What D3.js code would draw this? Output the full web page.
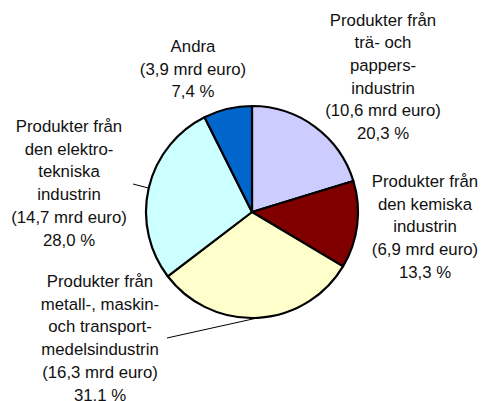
<!DOCTYPE html>
<meta charset="utf-8">
<script src="https://d3js.org/d3.v7.min.js"></script>
<style>
  body { margin: 0; background: #fff; }
</style>
<div id="my_dataviz"></div>
<script>
    // slices clockwise from 12 o'clock
    var categories = ["tra", "kemi", "metall", "elektro", "andra"];
    var billions = [10.6, 6.9, 16.3, 14.7, 3.9];
    var shares = [20.3, 13.3, 31.1, 28.0, 7.4];
    var labelLines = [
        ["Produkter från", "trä- och", "pappers-", "industrin", "(10,6 mrd euro)", "20,3 %"],
        ["Produkter från", "den kemiska", "industrin", "(6,9 mrd euro)", "13,3 %"],
        ["Produkter från", "metall-, maskin-", "och transport-", "medelsindustrin", "(16,3 mrd euro)", "31,1 %"],
        ["Produkter från", "den elektro-", "tekniska", "industrin", "(14,7 mrd euro)", "28,0 %"],
        ["Andra", "(3,9 mrd euro)", "7,4 %"]
    ];
    var colors = ["#ccccff", "#800000", "#ffffcc", "#ccffff", "#0066cc"];

    // label layout: centre x and baseline of first line, plus optional leader start
    var labelPos = [
        { x: 383, y: 25.5 },
        { x: 425, y: 187 },
        { x: 100, y: 287, lead: [167, 338] },
        { x: 69, y: 132, lead: [133, 184] },
        { x: 193, y: 52 }
    ];

    var width = 482, height = 401;
    var cx = 252, cy = 212, radius = 106;
    var lineH = 22.7;

    var svg = d3.select("#my_dataviz")
        .append("svg")
        .attr("width", width)
        .attr("height", height);

    var pie = d3.pie().sort(null).value(function (d) { return d; });
    var arcs = pie(shares);
    var arc = d3.arc().innerRadius(0).outerRadius(radius);

    var g = svg.append("g")
        .attr("transform", "translate(" + cx + "," + cy + ")");

    g.selectAll("path")
        .data(arcs)
        .enter()
        .append("path")
        .attr("d", arc)
        .style("fill", function (d, i) { return colors[i]; })
        .style("stroke", "#000")
        .style("stroke-width", 2.2)
        .style("stroke-linejoin", "round");

    // leader lines
    arcs.forEach(function (d, i) {
        var p = labelPos[i];
        if (!p.lead) return;
        var a = (d.startAngle + d.endAngle) / 2;
        svg.append("line")
            .attr("x1", p.lead[0])
            .attr("y1", p.lead[1])
            .attr("x2", cx + radius * Math.sin(a))
            .attr("y2", cy - radius * Math.cos(a))
            .style("stroke", "#000")
            .style("stroke-width", 1);
    });

    // labels
    labelLines.forEach(function (lines, i) {
        var p = labelPos[i];
        var t = svg.append("text")
            .attr("text-anchor", "middle")
            .style("font-family", "'Liberation Sans', Arial, sans-serif")
            .style("font-size", "16.8px")
            .style("fill", "#111");
        lines.forEach(function (s, j) {
            t.append("tspan")
                .attr("x", p.x)
                .attr("y", p.y + j * lineH)
                .text(s);
        });
    });
</script>
